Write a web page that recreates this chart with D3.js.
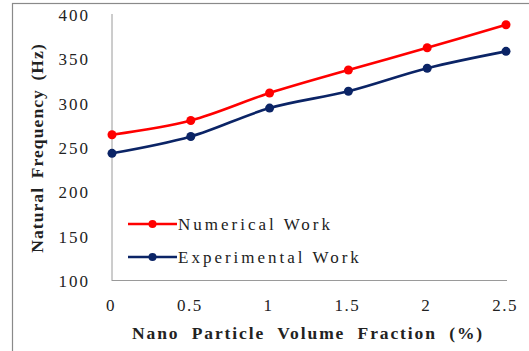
<!DOCTYPE html>
<html>
<head>
<meta charset="utf-8">
<script src="https://cdn.jsdelivr.net/npm/d3@7"></script>
<style>
  html, body { margin: 0; padding: 0; background: #fff; }
  svg { display: block; }
  text { font-family: "Liberation Serif", "Times New Roman", serif; fill: #222; }
</style>
</head>
<body>
<svg id="chart" width="529" height="351"></svg>
<script>
// Natural frequency vs. nano particle volume fraction
const volumeFractions = [0, 0.5, 1, 1.5, 2, 2.5];
const numericalWork = [265, 281, 312, 338, 363, 389];
const experimentalWork = [244, 263, 295, 314, 340, 359];
const xTickLabels = ["0", "0.5", "1", "1.5", "2", "2.5"];
const yTickValues = [100, 150, 200, 250, 300, 350, 400];
const seriesNames = ["Numerical Work", "Experimental Work"];
const seriesColors = ["#ff0000", "#0b2466"];

const svg = d3.select("#chart");

// outer chart frame
svg.append("rect")
  .attr("x", 12.5).attr("y", 3.5)
  .attr("width", 600).attr("height", 400)
  .attr("fill", "none").attr("stroke", "#8a8a8a").attr("stroke-width", 1.2);

const x = d3.scaleLinear().domain([0, 2.5]).range([112, 506]);
const y = d3.scaleLinear().domain([100, 400]).range([281, 15]);

// axis lines
svg.append("line")
  .attr("x1", x(0)).attr("x2", 507)
  .attr("y1", y(100) - 0.5).attr("y2", y(100) - 0.5)
  .attr("stroke", "#9a9a9a").attr("stroke-width", 1);
svg.append("line")
  .attr("x1", x(0)).attr("x2", x(0))
  .attr("y1", y(100)).attr("y2", 14)
  .attr("stroke", "#9a9a9a").attr("stroke-width", 1);

// y tick labels
svg.selectAll(".ytick").data(yTickValues).enter().append("text")
  .attr("class", "ytick")
  .attr("x", 90).attr("y", d => y(d))
  .attr("dy", "0.35em")
  .attr("text-anchor", "end")
  .style("font-size", "17px")
  .style("letter-spacing", "2px")
  .text(d => d);

// x tick labels
svg.selectAll(".xtick").data(volumeFractions).enter().append("text")
  .attr("class", "xtick")
  .attr("x", d => x(d) - 1).attr("y", 311)
  .attr("text-anchor", "middle")
  .style("font-size", "17px")
  .style("letter-spacing", "1.5px")
  .text((d, i) => xTickLabels[i]);

// axis titles
svg.append("text")
  .attr("x", 308).attr("y", 339)
  .attr("text-anchor", "middle")
  .style("font-size", "17.5px").style("font-weight", "bold")
  .style("letter-spacing", "1.9px").style("word-spacing", "6px")
  .text("Nano Particle Volume Fraction (%)");

svg.append("text")
  .attr("transform", "translate(43,148) rotate(-90)")
  .attr("text-anchor", "middle")
  .style("font-size", "17.5px").style("font-weight", "bold")
  .style("letter-spacing", "1.1px").style("word-spacing", "3px")
  .text("Natural Frequency (Hz)");

// series lines and markers
const line = d3.line()
  .x((d, i) => x(volumeFractions[i]))
  .y(d => y(d))
  .curve(d3.curveCatmullRom.alpha(0.5));

[numericalWork, experimentalWork].forEach((values, s) => {
  svg.append("path")
    .datum(values)
    .attr("d", line)
    .attr("fill", "none")
    .attr("stroke", seriesColors[s])
    .attr("stroke-width", 2.6);
  svg.selectAll(".pt" + s).data(values).enter().append("circle")
    .attr("class", "pt" + s)
    .attr("cx", (d, i) => x(volumeFractions[i]))
    .attr("cy", d => y(d))
    .attr("r", 4.5)
    .attr("fill", seriesColors[s]);
});

// legend
const legendY = [224, 257];
seriesNames.forEach((name, s) => {
  const g = svg.append("g");
  g.append("line")
    .attr("x1", 128).attr("x2", 177)
    .attr("y1", legendY[s]).attr("y2", legendY[s])
    .attr("stroke", seriesColors[s]).attr("stroke-width", 2.6);
  g.append("circle")
    .attr("cx", 152.5).attr("cy", legendY[s]).attr("r", 4)
    .attr("fill", seriesColors[s]);
  g.append("text")
    .attr("x", 178).attr("y", legendY[s])
    .attr("dy", "0.33em")
    .style("font-size", "17px")
    .style("letter-spacing", "3px")
    .text(name);
});
</script>
</body>
</html>
